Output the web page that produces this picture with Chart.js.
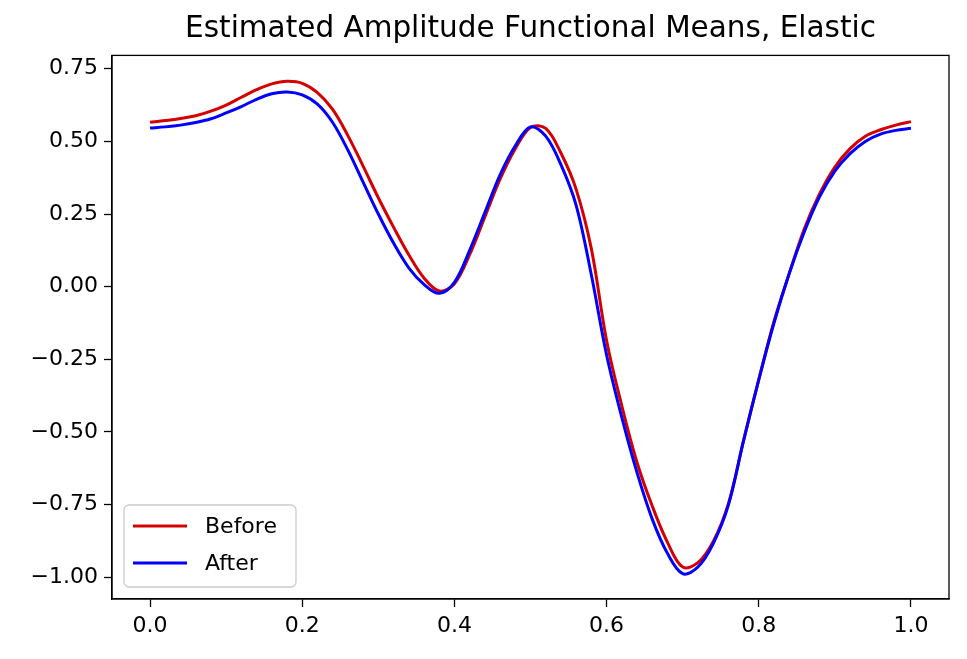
<!DOCTYPE html>
<html>
<head>
<meta charset="utf-8">
<script src="https://cdn.jsdelivr.net/npm/chart.js@4.4.0/dist/chart.umd.min.js"></script>
<style>
  html, body { margin: 0; padding: 0; background: #fff; }
  #wrap { width: 967px; height: 659px; }
</style>
</head>
<body>
<div id="wrap"><canvas id="chart" width="967" height="659"></canvas></div>
<script>
const titleText = 'Estimated Amplitude Functional Means, Elastic';
const seriesNames = ['Before', 'After'];
const xValues = [0.00, 0.02, 0.04, 0.06, 0.08, 0.10, 0.12, 0.14, 0.16, 0.18,
                 0.20, 0.22, 0.24, 0.26, 0.28, 0.30, 0.32, 0.34, 0.36, 0.38,
                 0.40, 0.42, 0.44, 0.46, 0.48, 0.50, 0.52, 0.54, 0.56, 0.58,
                 0.60, 0.62, 0.64, 0.66, 0.68, 0.70, 0.72, 0.74, 0.76, 0.78,
                 0.80, 0.82, 0.84, 0.86, 0.88, 0.90, 0.92, 0.94, 0.96, 0.98, 1.00];
const beforeValues = [0.566, 0.572, 0.579, 0.588, 0.604, 0.625, 0.652, 0.678, 0.698, 0.707,
                      0.700, 0.668, 0.610, 0.520, 0.415, 0.306, 0.205, 0.110, 0.030, -0.015,
                      0.010, 0.110, 0.240, 0.370, 0.475, 0.548, 0.545, 0.460, 0.335, 0.130,
                      -0.185, -0.410, -0.605, -0.755, -0.880, -0.965, -0.950, -0.878, -0.748, -0.530,
                      -0.320, -0.120, 0.045, 0.200, 0.320, 0.412, 0.475, 0.518, 0.540, 0.556, 0.568];
const afterValues = [0.546, 0.550, 0.556, 0.565, 0.578, 0.598, 0.620, 0.645, 0.664, 0.670,
                     0.660, 0.628, 0.565, 0.470, 0.360, 0.250, 0.150, 0.065, 0.008, -0.023,
                     0.015, 0.125, 0.255, 0.385, 0.485, 0.550, 0.518, 0.420, 0.280, 0.040,
                     -0.235, -0.450, -0.640, -0.800, -0.918, -0.988, -0.965, -0.885, -0.752, -0.530,
                     -0.320, -0.125, 0.045, 0.190, 0.310, 0.398, 0.458, 0.500, 0.525, 0.538, 0.545];
const xTicks = [0.0, 0.2, 0.4, 0.6, 0.8, 1.0];
const yTicks = [-1.00, -0.75, -0.50, -0.25, 0.00, 0.25, 0.50, 0.75];
const colors = ['#d40000', '#0000ff'];

const font = 'DejaVu Sans';

function toPoints(ys) {
    return xValues.map((x, i) => ({ x: x, y: ys[i] }));
}

function fmt(v, digits) {
    const s = Math.abs(v).toFixed(digits);
    return v < -1e-9 ? '\u2212' + s : s;
}

// top and right spines
const frame = {
    id: 'frame',
    afterDatasetsDraw(chart) {
        const a = chart.chartArea, ctx = chart.ctx;
        ctx.save();
        ctx.strokeStyle = '#000';
        ctx.lineWidth = 1.3;
        ctx.strokeRect(a.left, a.top, a.right - a.left, a.bottom - a.top);
        ctx.restore();
    }
};

// matplotlib style legend in lower left of the axes
const boxLegend = {
    id: 'boxLegend',
    afterDraw(chart) {
        const a = chart.chartArea, ctx = chart.ctx;
        const x = a.left + 12, w = 172, h = 82;
        const y = a.bottom - 12 - h;
        ctx.save();
        ctx.beginPath();
        ctx.roundRect(x, y, w, h, 5);
        ctx.fillStyle = 'rgba(255,255,255,0.8)';
        ctx.fill();
        ctx.strokeStyle = '#cccccc';
        ctx.lineWidth = 1.3;
        ctx.stroke();
        ctx.font = '22px "' + font + '"';
        ctx.textBaseline = 'middle';
        chart.data.datasets.forEach((ds, i) => {
            const ly = y + 21 + i * 37;
            ctx.beginPath();
            ctx.moveTo(x + 9, ly);
            ctx.lineTo(x + 63, ly);
            ctx.strokeStyle = ds.borderColor;
            ctx.lineWidth = 3;
            ctx.stroke();
            ctx.fillStyle = '#000';
            ctx.fillText(ds.label, x + 81, ly + 1);
        });
        ctx.restore();
    }
};

new Chart(document.getElementById('chart').getContext('2d'), {
    type: 'scatter',
    data: {
        datasets: [
            { label: seriesNames[0], data: toPoints(beforeValues), borderColor: colors[0], order: 2 },
            { label: seriesNames[1], data: toPoints(afterValues), borderColor: colors[1], order: 1 }
        ].map(ds => Object.assign(ds, {
            showLine: true,
            pointRadius: 0,
            borderWidth: 3,
            backgroundColor: ds.borderColor,
            tension: 0.35,
            fill: false
        }))
    },
    options: {
        responsive: false,
        animation: false,
        layout: { padding: { left: 0, right: 18, top: 0, bottom: 0 } },
        plugins: {
            legend: { display: false },
            tooltip: { enabled: false },
            title: {
                display: true,
                text: titleText,
                fullSize: false,
                color: '#000',
                font: { family: font, size: 29.5, weight: 'normal', lineHeight: 1.2 },
                padding: { top: 12, bottom: 8 }
            }
        },
        scales: {
            x: {
                type: 'linear',
                min: -0.05,
                max: 1.05,
                afterBuildTicks: s => { s.ticks = xTicks.map(v => ({ value: v })); },
                afterFit: s => { s.height = 60; },
                grid: { drawOnChartArea: false, tickLength: 8, tickColor: '#000', tickWidth: 1.3 },
                border: { color: '#000', width: 1.3 },
                ticks: {
                    color: '#000',
                    padding: 6,
                    maxRotation: 0,
                    font: { family: font, size: 22 },
                    callback: v => fmt(v, 1)
                }
            },
            y: {
                type: 'linear',
                min: -1.075,
                max: 0.796,
                afterBuildTicks: s => { s.ticks = yTicks.map(v => ({ value: v })); },
                afterFit: s => { s.width = 112; },
                grid: { drawOnChartArea: false, tickLength: 8, tickColor: '#000', tickWidth: 1.3 },
                border: { color: '#000', width: 1.3 },
                ticks: {
                    color: '#000',
                    padding: 6,
                    font: { family: font, size: 22 },
                    callback: v => fmt(v, 2)
                }
            }
        }
    },
    plugins: [frame, boxLegend]
});
</script>
</body>
</html>
